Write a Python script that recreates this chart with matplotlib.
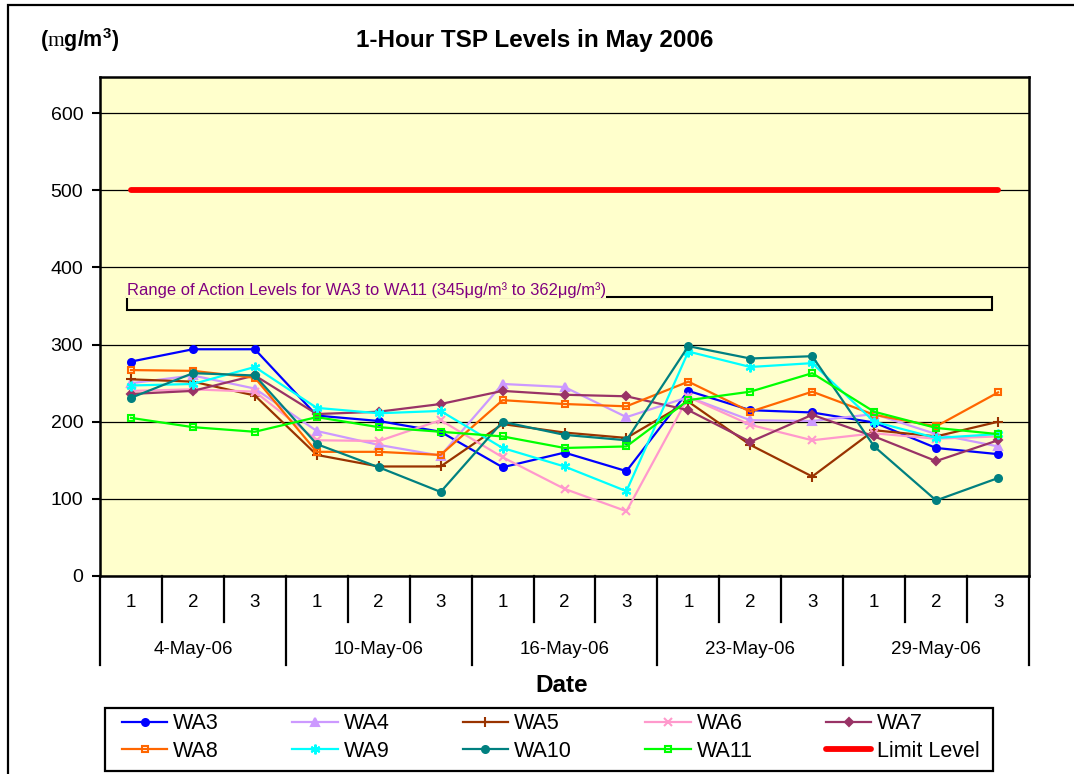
import numpy as np
import matplotlib
matplotlib.use('Agg')
import matplotlib.pyplot as plt
from matplotlib.patches import Rectangle

plt.rcParams['font.family'] = ['Liberation Sans', 'DejaVu Sans']
plt.rcParams['mathtext.fontset'] = 'custom'
plt.rcParams['mathtext.rm'] = 'Liberation Serif'
plt.rcParams['mathtext.bf'] = 'Liberation Sans:bold'

dates = ['4-May-06', '10-May-06', '16-May-06', '23-May-06', '29-May-06']
sub_labels = ['1', '2', '3']

wa3 = [278, 294, 294, 208, 201, 187, 141, 160, 136, 240, 215, 212, 199, 166, 158]
wa4 = [250, 260, 243, 188, 170, 156, 249, 245, 206, 232, 202, 201, 210, 184, 168]
wa5 = [255, 252, 234, 157, 142, 142, 197, 186, 179, 226, 170, 129, 189, 181, 200]
wa6 = [240, 242, 239, 176, 175, 202, 154, 113, 84, 232, 196, 176, 185, 178, 181]
wa7 = [236, 240, 260, 210, 213, 223, 240, 235, 233, 215, 174, 209, 181, 149, 176]
wa8 = [267, 266, 257, 161, 161, 157, 228, 223, 220, 252, 213, 239, 209, 194, 238]
wa9 = [247, 249, 271, 218, 211, 214, 166, 142, 110, 291, 271, 276, 200, 179, 184]
wa10 = [231, 263, 260, 171, 141, 109, 200, 183, 176, 298, 282, 285, 168, 98, 127]
wa11 = [205, 193, 187, 206, 193, 187, 181, 166, 168, 228, 239, 263, 213, 192, 184]
limit_level = 500
action_low, action_high = 345, 362

series = [
    ('WA3', wa3, '#0000FF', 'o', 'full', 5),
    ('WA4', wa4, '#CC99FF', '^', 'full', 5.5),
    ('WA5', wa5, '#993300', '+', 'full', 7),
    ('WA6', wa6, '#FF99CC', 'x', 'full', 6),
    ('WA7', wa7, '#993366', 'D', 'full', 4.5),
    ('WA8', wa8, '#FF6600', 's', 'none', 4.5),
    ('WA9', wa9, '#00FFFF', (6, 2, 0), 'full', 7),
    ('WA10', wa10, '#008080', 'o', 'full', 5),
    ('WA11', wa11, '#00FF00', 's', 'none', 4.5),
]

W, H = 1074, 774
fig = plt.figure(figsize=(W / 100, H / 100), dpi=100)
ax = fig.add_axes([100 / W, 1 - 576 / H, 929 / W, 499 / H])
ax.set_facecolor('#FFFFCC')

n = len(dates) * len(sub_labels)
x = np.arange(n)

handles = {}
for name, vals, col, mk, fill, ms in series:
    ln, = ax.plot(x, vals, color=col, lw=1.6, marker=mk, ms=ms, mew=1.5,
                  mfc='none' if fill == 'none' else col, zorder=3)
    handles[name] = ln

lim, = ax.plot([x[0], x[-1]], [limit_level] * 2, color='#FF0000', lw=4.2,
               solid_capstyle='round', zorder=4)
handles['Limit Level'] = lim

ax.add_patch(Rectangle((-0.07, action_low), 13.97, action_high - action_low,
                       fill=False, ec='black', lw=1.5, zorder=2))
ax.text(-0.07, action_high - 1,
        'Range of Action Levels for WA3 to WA11 (345\u03bcg/m\u00b3 to 362\u03bcg/m\u00b3)',
        fontsize=11.9, color='#800080', ha='left', va='bottom', zorder=5,
        bbox=dict(boxstyle='square,pad=0.05', fc='#FFFFCC', ec='none'))

ax.set_xlim(-0.5, n - 0.5)
ax.set_ylim(0, 647)
ax.set_yticks(np.arange(0, 700, 100))
ax.yaxis.grid(True, color='black', lw=0.9, zorder=1)
ax.set_axisbelow(True)
ax.tick_params(axis='y', labelsize=14, length=6, width=1.5, pad=6)
ax.set_xticks([])
for s in ax.spines.values():
    s.set_linewidth(1.8)

# two-level category axis
tr = ax.get_xaxis_transform()
for i in range(n):
    ax.text(i, -0.054, sub_labels[i % 3], transform=tr, ha='center', va='center', fontsize=13.5)
for i in range(n + 1):
    pos = i - 0.5
    low = -0.178 if i % 3 == 0 else -0.092
    ax.plot([pos, pos], [0, low], transform=tr, color='black', lw=1.6, clip_on=False)
for j, d in enumerate(dates):
    ax.text(j * 3 + 1, -0.148, d, transform=tr, ha='center', va='center', fontsize=13.5)

fig.text(535 / W, 1 - 40 / H, '1-Hour TSP Levels in May 2006', ha='center', va='center',
         fontsize=17.5, fontweight='bold')
fig.text(40 / W, 1 - 40 / H, r'$\mathbf{(}\mathrm{m}\mathbf{g/m^3)}$', ha='left', va='center',
         fontsize=15.5)
fig.text(562 / W, 1 - 686 / H, 'Date', ha='center', va='center', fontsize=17.5, fontweight='bold')

# outer chart border
fig.add_artist(Rectangle((8 / W, -0.05), 1.2, 1 - 5 / H + 0.05, transform=fig.transFigure,
                         fill=False, ec='black', lw=1.6))

# legend frame drawn separately, entries inset
fig.add_artist(Rectangle((105 / W, 1 - 771 / H), 888 / W, 63 / H, transform=fig.transFigure,
                         fill=False, ec='black', lw=1.6))
order = ['WA3', 'WA8', 'WA4', 'WA9', 'WA5', 'WA10', 'WA6', 'WA11', 'WA7', 'Limit Level']
leg = fig.legend([handles[k] for k in order], order, ncol=5, mode='expand',
                 loc='center left', bbox_to_anchor=(122 / W, 1 - 737.5 / H, 858 / W, 0),
                 fontsize=15.5, frameon=False, handlelength=2.1, handletextpad=0.28,
                 labelspacing=0.3, borderpad=0, borderaxespad=0)

fig.savefig('out.png', dpi=100)
